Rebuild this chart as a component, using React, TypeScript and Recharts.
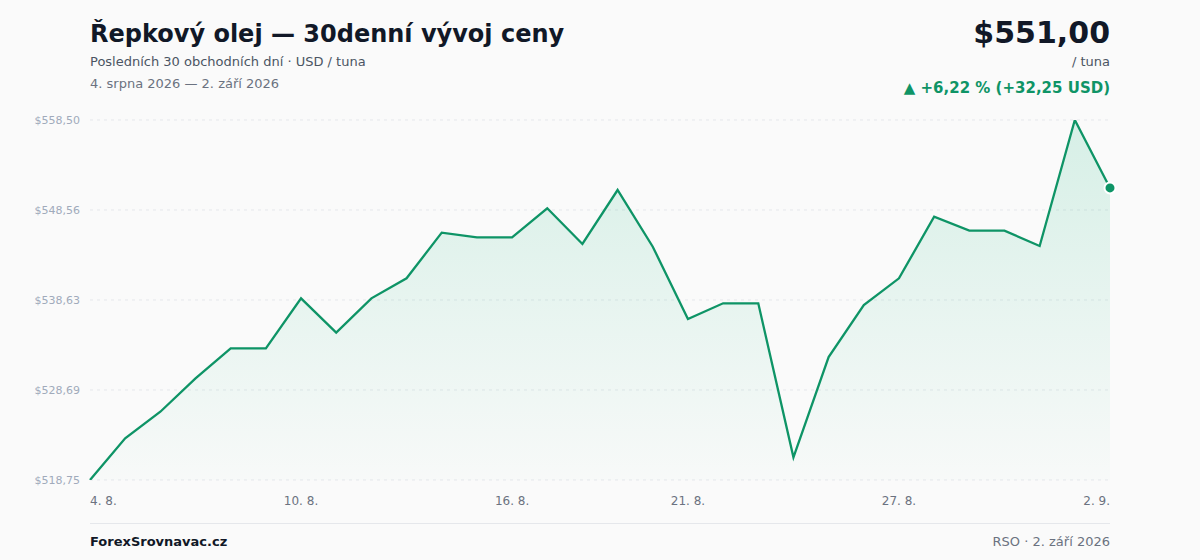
import React from 'react';
import { AreaChart, Area, XAxis, YAxis, CartesianGrid, ReferenceDot } from 'recharts';

const dates: string[] = [
  '4. 8.', '5. 8.', '6. 8.', '7. 8.', '8. 8.', '9. 8.', '10. 8.', '11. 8.', '12. 8.', '13. 8.',
  '14. 8.', '15. 8.', '16. 8.', '17. 8.', '18. 8.', '19. 8.', '20. 8.', '21. 8.', '22. 8.', '23. 8.',
  '24. 8.', '25. 8.', '26. 8.', '27. 8.', '28. 8.', '29. 8.', '30. 8.', '31. 8.', '1. 9.', '2. 9.',
];

const prices: number[] = [
  518.75, 523.35, 526.29, 529.98, 533.29, 533.29, 538.81, 535.02, 538.81, 541.02,
  546.06, 545.55, 545.55, 548.75, 544.81, 550.77, 544.51, 536.53, 538.26, 538.26,
  521.26, 532.33, 538.07, 541.02, 547.82, 546.28, 546.28, 544.59, 558.5, 551.0,
];

const xTicks: string[] = ['4. 8.', '10. 8.', '16. 8.', '21. 8.', '27. 8.', '2. 9.'];
const yTicks: number[] = [518.75, 528.6875, 538.625, 548.5625, 558.5];
const yTickLabels: string[] = ['$518,75', '$528,69', '$538,63', '$548,56', '$558,50'];

const data = dates.map((d, i) => ({ date: d, price: prices[i] }));

const GREEN = '#0e9466';
const FILL = '#16b57c';
const FONT = '"DejaVu Sans", Verdana, sans-serif';

const XTick = (props: any) => {
  const { x, y, payload } = props;
  const v = payload.value;
  let anchor: 'start' | 'middle' | 'end' = 'middle';
  if (v === xTicks[0]) anchor = 'start';
  if (v === xTicks[xTicks.length - 1]) anchor = 'end';
  return (
    <text x={x} y={y + 17} textAnchor={anchor} fill="#6b7280" fontSize={12} fontFamily={FONT}>
      {v}
    </text>
  );
};

const YTick = (props: any) => {
  const { y, payload } = props;
  let idx = -1;
  yTicks.forEach((t, i) => {
    if (Math.abs(t - payload.value) < 0.01) idx = i;
  });
  return (
    <text x={80} y={y + 4} textAnchor="end" fill="#a0aabb" fontSize={11} fontFamily={FONT}>
      {idx >= 0 ? yTickLabels[idx] : ''}
    </text>
  );
};

export default function App() {
  const last = data[data.length - 1];
  return (
    <div
      style={{
        position: 'absolute',
        left: 0,
        top: 0,
        width: 1200,
        height: 560,
        background: '#fafafa',
        fontFamily: FONT,
        overflow: 'hidden',
      }}
    >
      <div style={{ position: 'absolute', left: 90, top: 20, fontSize: 24, fontWeight: 700, color: '#111827', whiteSpace: 'nowrap' }}>
        Řepkový olej — 30denní vývoj ceny
      </div>
      <div style={{ position: 'absolute', left: 90, top: 54, fontSize: 13, color: '#4b5563', whiteSpace: 'nowrap' }}>
        Posledních 30 obchodních dní · USD / tuna
      </div>
      <div style={{ position: 'absolute', left: 90, top: 76, fontSize: 13, color: '#6b7280', whiteSpace: 'nowrap' }}>
        4. srpna 2026 — 2. září 2026
      </div>

      <div style={{ position: 'absolute', right: 90, top: 15, fontSize: 30, fontWeight: 700, color: '#111827', whiteSpace: 'nowrap', textAlign: 'right' }}>
        $551,00
      </div>
      <div style={{ position: 'absolute', right: 90, top: 54, fontSize: 13, color: '#4b5563', whiteSpace: 'nowrap', textAlign: 'right' }}>
        / tuna
      </div>
      <div style={{ position: 'absolute', right: 90, top: 79, fontSize: 15, fontWeight: 700, color: GREEN, whiteSpace: 'nowrap', textAlign: 'right' }}>
        ▲ +6,22 % (+32,25 USD)
      </div>

      <div style={{ position: 'absolute', left: 0, top: 0 }}>
        <AreaChart width={1200} height={560} data={data} margin={{ top: 120, right: 90, bottom: 50, left: 0 }}>
          <defs>
            <linearGradient id="fillGrad" x1="0" y1="0" x2="0" y2="1">
              <stop offset="0%" stopColor={FILL} stopOpacity={0.26} />
              <stop offset="100%" stopColor={FILL} stopOpacity={0.02} />
            </linearGradient>
          </defs>
          <CartesianGrid vertical={false} stroke="#e5e7eb" strokeDasharray="3 4" />
          <XAxis
            dataKey="date"
            ticks={xTicks}
            interval={0}
            axisLine={false}
            tickLine={false}
            height={30}
            tick={<XTick />}
          />
          <YAxis
            domain={[yTicks[0], yTicks[yTicks.length - 1]]}
            ticks={yTicks}
            width={90}
            axisLine={false}
            tickLine={false}
            tick={<YTick />}
            interval={0}
            allowDataOverflow
          />
          <Area
            type="linear"
            dataKey="price"
            stroke={GREEN}
            strokeWidth={2.3}
            fill="url(#fillGrad)"
            baseValue="dataMin"
            dot={false}
            activeDot={false}
            isAnimationActive={false}
          />
          <ReferenceDot x={last.date} y={last.price} r={5.5} fill={GREEN} stroke="#ffffff" strokeWidth={2} />
        </AreaChart>
      </div>

      <div style={{ position: 'absolute', left: 90, top: 523, width: 1020, height: 1, background: '#e5e7eb' }} />
      <div style={{ position: 'absolute', left: 90, top: 534, fontSize: 13, fontWeight: 700, color: '#111827', whiteSpace: 'nowrap' }}>
        ForexSrovnavac.cz
      </div>
      <div style={{ position: 'absolute', right: 90, top: 534, fontSize: 13, color: '#6b7280', whiteSpace: 'nowrap' }}>
        RSO · 2. září 2026
      </div>
    </div>
  );
}
